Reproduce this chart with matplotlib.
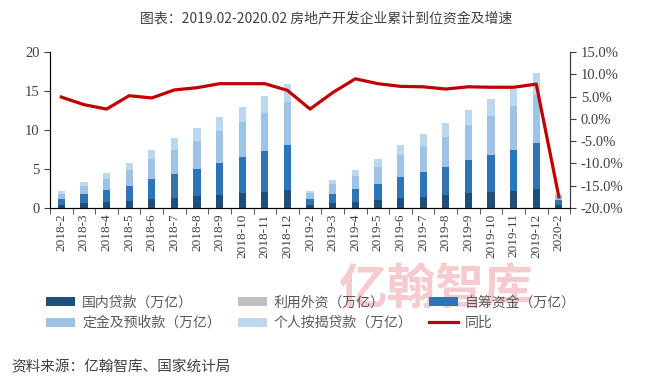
import matplotlib.pyplot as plt
import numpy as np

plt.rcParams['font.family'] = ['Noto Sans CJK SC', 'DejaVu Sans']

# months
months = ['2018-2', '2018-3', '2018-4', '2018-5', '2018-6', '2018-7', '2018-8', '2018-9',
          '2018-10', '2018-11', '2018-12',
          '2019-2', '2019-3', '2019-4', '2019-5', '2019-6', '2019-7', '2019-8', '2019-9',
          '2019-10', '2019-11', '2019-12', '2020-2']

# 万亿
domestic_loans = [0.43, 0.69, 0.81, 0.94, 1.20, 1.33, 1.58, 1.71, 1.97, 2.10, 2.36,
                  0.43, 0.69, 0.81, 1.07, 1.33, 1.46, 1.71, 1.97, 2.10, 2.23, 2.48, 0.43]
foreign_capital = [0.002, 0.003, 0.004, 0.005, 0.005, 0.006, 0.007, 0.008, 0.009, 0.010, 0.011,
                   0.002, 0.003, 0.003, 0.004, 0.004, 0.005, 0.005, 0.006, 0.006, 0.007, 0.008, 0.002]
self_raised = [0.77, 1.15, 1.55, 1.93, 2.57, 3.08, 3.47, 4.11, 4.50, 5.14, 5.65,
               0.77, 1.15, 1.67, 2.06, 2.70, 3.21, 3.60, 4.24, 4.75, 5.26, 5.79, 0.64]
deposits = [0.64, 1.03, 1.41, 2.06, 2.57, 3.08, 3.60, 3.99, 4.49, 4.88, 5.52,
            0.77, 1.29, 1.67, 2.18, 2.82, 3.34, 3.85, 4.37, 4.88, 5.53, 6.16, 0.53]
mortgages = [0.39, 0.51, 0.77, 0.89, 1.15, 1.42, 1.54, 1.80, 1.93, 2.18, 2.32,
             0.26, 0.51, 0.78, 1.03, 1.29, 1.54, 1.68, 1.93, 2.19, 2.28, 2.83, 0.25]
# 同比 %
yoy = [4.9, 3.2, 2.2, 5.2, 4.7, 6.5, 7.0, 7.9, 7.9, 7.9, 6.4,
       2.2, 5.9, 9.0, 7.9, 7.3, 7.2, 6.7, 7.2, 7.1, 7.1, 7.8, -17.5]

series = [
    ('国内贷款（万亿）', domestic_loans, '#1F4E79'),
    ('利用外资（万亿）', foreign_capital, '#BFBFBF'),
    ('自筹资金（万亿）', self_raised, '#2E75B6'),
    ('定金及预收款（万亿）', deposits, '#9DC3E6'),
    ('个人按揭贷款（万亿）', mortgages, '#BDD7EE'),
]

fig = plt.figure(figsize=(6.45, 3.87), dpi=100)

# watermark
fig.text(0.675, 0.25, '亿翰智库', ha='center', va='center', fontsize=35,
         fontweight='bold', color='#F4C2C7', alpha=0.85, zorder=0)

ax = fig.add_axes([0.0775, 0.4625, 0.8065, 0.403])
ax.patch.set_alpha(0)
x = np.arange(len(months))

handles = {}
bottom = np.zeros(len(months))
for name, vals, col in series:
    h = ax.bar(x, vals, 0.32, bottom=bottom, color=col, label=name, zorder=2)
    handles[name] = h
    bottom += np.array(vals)

ax.set_ylim(0, 20)
ax.set_yticks([0, 5, 10, 15, 20])
ax.set_xlim(-0.5, len(months) - 0.5)
ax.set_xticks(x)
ax.set_xticklabels(months, rotation=90, fontsize=9.5, color='#404040', family='Liberation Serif')
ax.set_xticks(np.arange(-0.5, len(months)), minor=True)
ax.tick_params(axis='x', which='major', length=0, pad=4)
ax.tick_params(axis='x', which='minor', length=4, color='#404040')
ax.tick_params(axis='y', labelsize=10.5, colors='#404040', length=4)
for lab in ax.get_yticklabels():
    lab.set_family('Liberation Serif')
ax.spines['top'].set_visible(False)
for s in ['left', 'right', 'bottom']:
    ax.spines[s].set_color('#404040')

ax2 = ax.twinx()
line, = ax2.plot(x, yoy, color='#C00000', lw=2.3, label='同比', zorder=3)
ax2.set_ylim(-20, 15)
ax2.set_yticks(np.arange(-20, 16, 5))
ax2.set_yticklabels(['%.1f%%' % v for v in np.arange(-20, 16, 5)], family='Liberation Serif')
ax2.tick_params(axis='y', labelsize=10.5, colors='#404040', length=4)
ax2.spines['top'].set_visible(False)
ax2.spines['right'].set_color('#404040')

fig.text(0.505, 0.952, '图表：2019.02-2020.02 房地产开发企业累计到位资金及增速',
         ha='center', va='center', fontsize=10, color='#404040')

order = ['国内贷款（万亿）', '定金及预收款（万亿）', '利用外资（万亿）',
         '个人按揭贷款（万亿）', '自筹资金（万亿）']
hs = [handles[order[0]], handles[order[1]], handles[order[2]],
      handles[order[3]], handles[order[4]], line]
ls = order + ['同比']
fig.legend(hs, ls, ncol=3, loc='upper left', bbox_to_anchor=(0.052, 0.268),
           frameon=False, fontsize=10, handlelength=2.1, handleheight=0.6,
           columnspacing=1.2, labelspacing=0.45, handletextpad=0.5,
           labelcolor='#595959')

fig.text(0.018, 0.05, '资料来源：亿翰智库、国家统计局', ha='left', va='center',
         fontsize=10.5, color='#404040')

plt.savefig('out.png', dpi=100)
